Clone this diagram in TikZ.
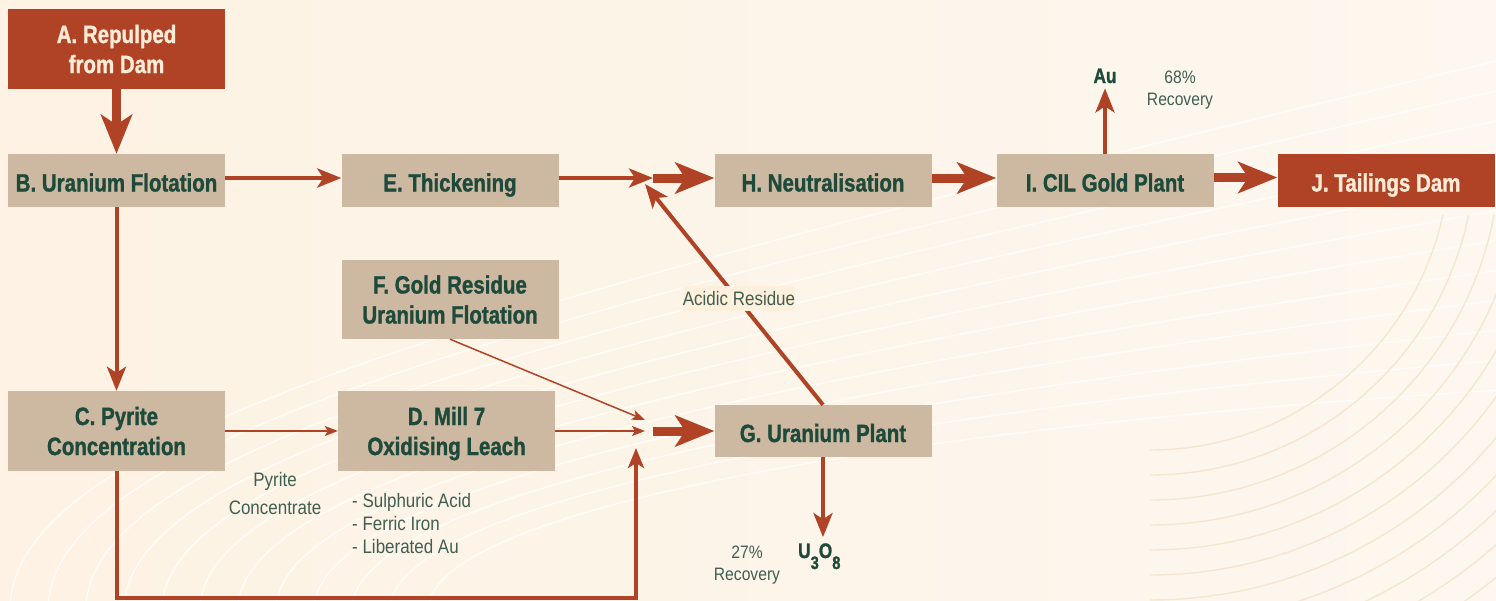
\documentclass[tikz,border=0pt]{standalone}
\usepackage{fontspec}
\setmainfont{Liberation Sans}
\newfontfamily\boxfont[FakeStretch=0.82, BoldFeatures={FakeBold=1.2}]{Liberation Sans}
\newfontfamily\lightfont[FakeStretch=0.87]{Liberation Sans}
\usetikzlibrary{arrows.meta,calc}
\definecolor{bgL}{HTML}{FDF2E3}
\definecolor{bgR}{HTML}{FDF7EF}
\definecolor{rust}{HTML}{B04325}
\definecolor{boxtan}{HTML}{CDB9A1}
\definecolor{dkgreen}{HTML}{1E4A3B}
\definecolor{grtext}{HTML}{3F5F51}
\definecolor{cream}{HTML}{FCEBD6}
\definecolor{lblbg}{HTML}{FEF0DC}
\definecolor{arcline}{HTML}{F6E6CE}
\newcommand{\twoline}[2]{\begin{tabular}[b]{@{}c@{}}#1\\#2\end{tabular}}
\newcommand{\mystackc}[1]{\begin{tabular}[b]{@{}c@{}}#1\end{tabular}}
\newcommand{\mystackl}[1]{\begin{tabular}[b]{@{}l@{}}#1\end{tabular}}
\tikzset{
  boxbase/.style={inner sep=0pt, minimum width=217pt, text depth=0pt,
    font=\boxfont\bfseries\fontsize{25}{30}\selectfont},
  tanbox/.style={boxbase, fill=boxtan, text=dkgreen},
  redbox/.style={boxbase, fill=rust, text=cream},
  oneline/.style={minimum height=53pt, text height=22pt},
  twolines/.style={minimum height=80pt, text height=48pt},
  note/.style={inner sep=0pt, text=grtext, font=\lightfont\fontsize{19.5}{23}\selectfont},
  recnote/.style={inner sep=0pt, text=grtext, font=\lightfont\fontsize{18}{22}\selectfont},
  chem/.style={inner sep=0pt, text=dkgreen, font=\boxfont\bfseries\fontsize{21}{24}\selectfont},
  thickarr/.style={draw=rust, line width=9pt, -{Stealth[length=39pt, width=31pt, inset=10pt]}},
  medarr/.style={draw=rust, line width=4pt, -{Stealth[length=24pt, width=19pt, inset=6pt]}},
  looparr/.style={draw=rust, line width=4pt, line join=miter, -{Stealth[length=20pt, width=16pt, inset=5pt]}},
  thinarr/.style={draw=rust, line width=1.5pt, -{Stealth[length=13pt, width=10pt, inset=3pt]}},
  bgwhite/.style={draw=white, line width=1.4pt, opacity=0.75},
  bgtan/.style={draw=arcline, line width=1.4pt}
}
\begin{document}
\begin{tikzpicture}[x=1pt,y=-1pt]
\useasboundingbox (0,0) rectangle (1496,600);
\shade[left color=bgL, right color=bgR] (0,0) rectangle (1496,600);
% background decoration
\begin{scope}
  \clip (0,0) rectangle (1496,600);
  \foreach \i in {0,...,11} {
    \draw[bgwhite] ({10+38*\i},610) .. controls ({10+38*\i},{430+8*\i}) and ({500+30*\i},{300+12*\i}) .. (1500,{60+30*\i});
  }
\end{scope}
\begin{scope}
  \clip (1130,215) rectangle (1496,600);
  \foreach \r in {300,325,...,600} {
    \draw[bgtan] ({1150+\r},150) arc[start angle=0, end angle=90, radius=\r];
  }
\end{scope}

% boxes
\node[redbox,twolines] (A) at (116.5,49) {\twoline{A. Repulped}{from Dam}};
\node[tanbox,oneline] (B) at (116.5,180.5) {B. Uranium Flotation};
\node[tanbox,oneline] (E) at (450,180.5) {E. Thickening};
\node[tanbox,oneline] (H) at (823,180.5) {H. Neutralisation};
\node[tanbox,oneline] (I) at (1105,180.5) {I. CIL Gold Plant};
\node[redbox,oneline] (J) at (1386,180.5) {J. Tailings Dam};
\node[tanbox,twolines,minimum height=79pt] (F) at (450,299.5) {\twoline{F. Gold Residue}{Uranium Flotation}};
\node[tanbox,twolines] (C) at (116.5,431) {\twoline{C. Pyrite}{Concentration}};
\node[tanbox,twolines] (D) at (446.5,431) {\twoline{D. Mill 7}{Oxidising Leach}};
\node[tanbox,oneline,minimum height=52pt] (G) at (823,431) {G. Uranium Plant};

% labels
\node[note, font=\lightfont\fontsize{19.5}{28}\selectfont, anchor=base] (pyr) at (275,514) {\mystackc{Pyrite\\Concentrate}};
\node[note, anchor=base west] (reag) at (352,553) {\mystackl{- Sulphuric Acid\\- Ferric Iron\\- Liberated Au}};
\node[recnote, anchor=base] (rec27) at (747,580) {\mystackc{27\%\\Recovery}};
\node[recnote, anchor=base] (rec68) at (1180,105) {\mystackc{68\%\\Recovery}};
\node[chem, anchor=base] (Au) at (1105,83) {Au};
\node[chem, anchor=base west] (U) at (798,558) {U\raisebox{-11pt}{\fontsize{18}{18}\selectfont 3}O\raisebox{-11pt}{\fontsize{18}{18}\selectfont 8}};

% junctions
\coordinate (jH) at (653,178);
\coordinate (jHd) at (645,184);
\coordinate (jG) at (653,431);
\coordinate (jGm) at (645,431);
\coordinate (jGf) at (645,420);
\coordinate (jGu) at (636,448);
\coordinate (lc) at (636,598);

% connectors
\draw[thickarr] (A.south) -- (B.north);
\draw[medarr] ([yshift=2.5pt]B.east) -- ([yshift=2.5pt]E.west);
\draw[medarr] ([yshift=2.5pt]E.east) -- (jH);
\draw[thickarr] (jH) -- ([yshift=2.5pt]H.west);
\draw[thickarr] ([yshift=2.5pt]H.east) -- ([yshift=2.5pt]I.west);
\draw[thickarr] ([yshift=3pt]I.east) -- ([yshift=3pt]J.west);
\draw[medarr] (I.north) -- ($(I.north |- Au.south)+(0,5)$);
\draw[medarr] (B.south) -- (C.north);
\draw[thinarr] (C.east) -- (D.west);
\draw[thinarr] (D.east) -- (jGm);
\draw[thinarr] (F.south) -- (jGf);
\draw[looparr] (C.south) |- (lc) -- (jGu);
\draw[thickarr] (jG) -- (G.west);
\draw[medarr] (G.north) -- (jHd);
\draw[medarr] (G.south) -- ($(G.south |- U.north)+(0,-6)$);

\node[note, fill=lblbg, minimum width=110pt, minimum height=25pt, text height=14pt, text depth=0pt] (acid) at (739,298) {Acidic Residue};
\end{tikzpicture}
\end{document}
